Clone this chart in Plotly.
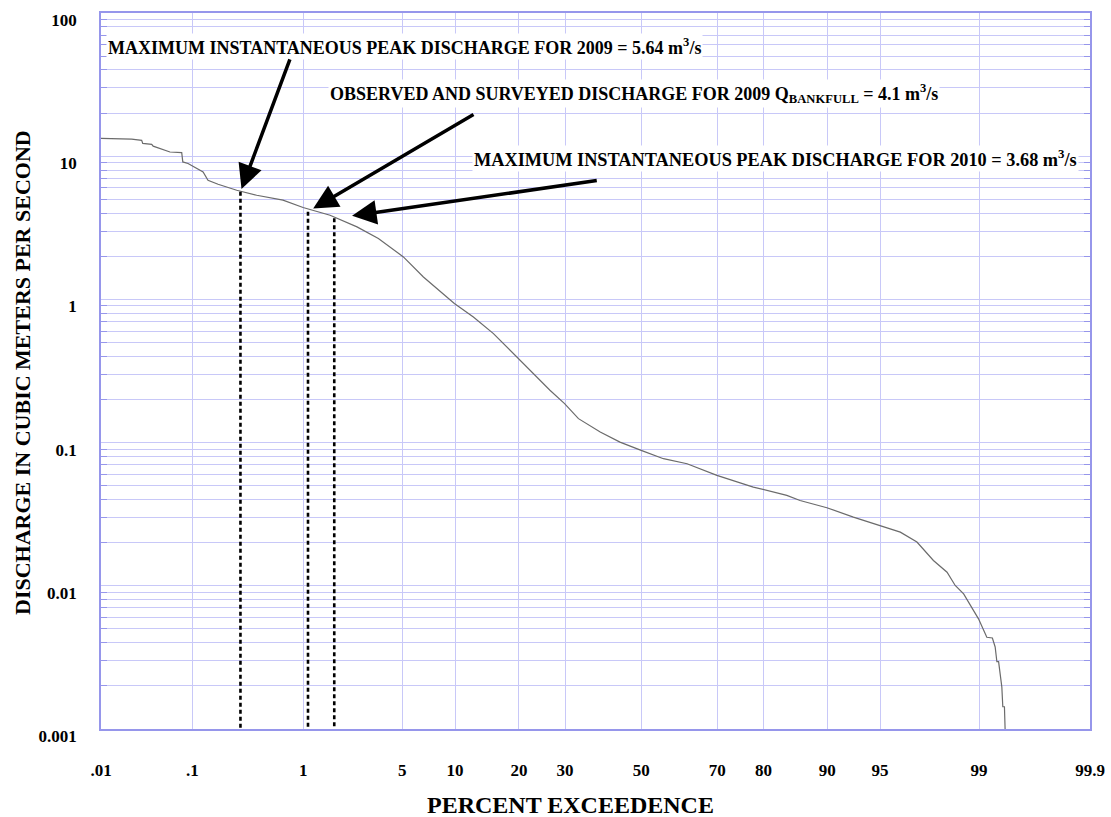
import math
import plotly.graph_objects as go
from statistics import NormalDist

# ---------------- data ----------------
percent_exceedance = [0.01, 0.0226, 0.0292, 0.030, 0.0376, 0.039, 0.0589, 0.078, 0.080, 0.0905,
                      0.128, 0.143, 0.179, 0.268, 0.406, 0.683, 0.996, 1.61, 2.52, 3.52,
                      5.08, 6.69, 9.92, 12.4, 15.46, 19.9, 22.9, 26.5, 29.9, 33.3,
                      38.9, 44.2, 50.0, 56.1, 62.4, 69.9, 78.0, 84.2, 86.3, 89.95,
                      92.8, 94.95, 96.28, 97.12, 97.79, 98.24, 98.47, 98.68, 98.83, 98.99,
                      99.134, 99.22, 99.26, 99.284, 99.307, 99.349, 99.361, 99.381, 99.389]
discharge_cms = [13.3, 13.15, 12.9, 12.3, 12.1, 11.75, 10.7, 10.6, 9.12, 8.89,
                 7.77, 6.79, 6.37, 5.78, 5.34, 4.93, 4.38, 3.87, 3.21, 2.66,
                 1.98, 1.434, 0.935, 0.753, 0.577, 0.386, 0.303, 0.232, 0.187, 0.147,
                 0.1184, 0.1008, 0.0882, 0.0772, 0.0712, 0.059, 0.0489, 0.0428, 0.0394, 0.0351,
                 0.0302, 0.0264, 0.0237, 0.0202, 0.01502, 0.01245, 0.01005, 0.00879, 0.00728, 0.00588,
                 0.00437, 0.00432, 0.00374, 0.00295, 0.00295, 0.00196, 0.00143, 0.00143, 0.001]

tick_percents = [0.01, 0.1, 1, 5, 10, 20, 30, 50, 70, 80, 90, 95, 99, 99.9]
tick_labels = [".01", ".1", "1", "5", "10", "20", "30", "50", "70", "80", "90", "95", "99", "99.9"]

y_tick_values = [100, 10, 1, 0.1, 0.01, 0.001]
y_tick_labels = ["100", "10", "1", "0.1", "0.01", "0.001"]

marker_percents = [0.29, 1.09, 1.73]
marker_discharges = [5.64, 4.1, 3.68]
marker_texts = [
    "MAXIMUM INSTANTANEOUS PEAK DISCHARGE FOR 2009 = 5.64 m<sup>3</sup>/s",
    "OBSERVED AND SURVEYED DISCHARGE FOR 2009 Q<sub>BANKFULL</sub> = 4.1 m<sup>3</sup>/s",
    "MAXIMUM INSTANTANEOUS PEAK DISCHARGE FOR 2010 = 3.68 m<sup>3</sup>/s",
]

# ---------------- probability scale helper ----------------
_nd = NormalDist()


def prob(p):
    return _nd.inv_cdf(p / 100.0)


GRID = "rgb(200,200,248)"
BORDER = "rgb(150,150,235)"
FONT = "Liberation Serif"

L, R, T, B = 101, 21, 13, 88
PW, PH = 1111 - L - R, 817 - T - B


def px_x(px):
    return (px - L) / PW


def px_y(py):
    return (817 - B - py) / PH


fig = go.Figure()

# flow-duration curve
fig.add_trace(go.Scatter(
    x=[prob(p) for p in percent_exceedance], y=discharge_cms,
    mode="lines", line=dict(color="#6b6b6b", width=1.2),
    hoverinfo="skip"))

# dotted verticals
for p, q in zip(marker_percents, marker_discharges):
    fig.add_trace(go.Scatter(
        x=[prob(p), prob(p)], y=[q, 0.001], mode="lines",
        line=dict(color="black", width=2.6, dash="4px,3px"),
        hoverinfo="skip"))

minor_vals = [m * 10 ** e for e in range(-3, 2) for m in range(2, 10)]

fig.update_layout(
    width=1111, height=817,
    margin=dict(l=L, r=R, t=T, b=B),
    plot_bgcolor="white", paper_bgcolor="white",
    showlegend=False,
    xaxis=dict(
        range=[prob(0.01), prob(99.9)], automargin=False,
        tickmode="array", tickvals=[prob(p) for p in tick_percents], ticktext=tick_labels,
        showgrid=True, gridcolor=GRID, gridwidth=1, zeroline=False,
        showline=True, linecolor=BORDER, linewidth=1.5, mirror=True,
        ticks="", ticklabelstandoff=25, ticklabeloverflow="allow",
        tickfont=dict(family=FONT, size=17, color="black", weight="bold"),
    ),
    yaxis=dict(
        type="log", range=[-3, 2], automargin=False,
        tickmode="array", tickvals=y_tick_values, ticktext=y_tick_labels,
        showgrid=True, gridcolor=GRID, gridwidth=1, zeroline=False,
        showline=True, linecolor=BORDER, linewidth=1.5, mirror="allticks",
        ticks="", ticklabelstandoff=19, ticklabelshift=7, ticklabeloverflow="allow",
        tickfont=dict(family=FONT, size=17, color="black", weight="bold"),
        minor=dict(tickmode="array", tickvals=minor_vals, showgrid=True, gridcolor=GRID,
                   gridwidth=1, ticks="inside", ticklen=6, tickcolor=BORDER),
    ),
)

# axis titles
fig.add_annotation(text="PERCENT EXCEEDENCE", xref="paper", yref="paper",
                   x=px_x(570), y=px_y(805), showarrow=False,
                   xanchor="center", yanchor="middle",
                   font=dict(family=FONT, size=24, color="black", weight="bold"))
fig.add_annotation(text="DISCHARGE IN CUBIC METERS PER SECOND", xref="paper", yref="paper",
                   x=px_x(22), y=px_y(373), showarrow=False, textangle=-90,
                   xanchor="center", yanchor="middle",
                   font=dict(family=FONT, size=22, color="black", weight="bold"))

# text labels (pixel positions converted to paper coordinates)
label_pos = [(106, 47), (328, 93), (472, 158)]
label_size = [18, 18, 18.3]
for (px, py), txt, sz in zip(label_pos, marker_texts, label_size):
    fig.add_annotation(text=txt, xref="paper", yref="paper",
                       x=px_x(px), y=px_y(py), showarrow=False,
                       xanchor="left", yanchor="middle", bgcolor="white",
                       font=dict(family=FONT, size=sz, color="black", weight="bold"))

# arrows: tips at the marked points, tails given as pixel offsets
arrow_tails = [(50, -134), (167, -98), (264, -38)]
arrow_standoff = [3, 6, 18]
for p, q, (ax, ay), so in zip(marker_percents, marker_discharges, arrow_tails, arrow_standoff):
    fig.add_annotation(x=prob(p), y=math.log10(q), xref="x", yref="y",
                       ax=ax, ay=ay, axref="pixel", ayref="pixel", text="",
                       showarrow=True, arrowhead=2, arrowsize=1.4, arrowwidth=3.5,
                       arrowcolor="black", standoff=so)

fig.write_html("out.html",
               config={"displayModeBar": False},
               post_script="document.body.style.margin='0';document.body.style.overflow='hidden';")
